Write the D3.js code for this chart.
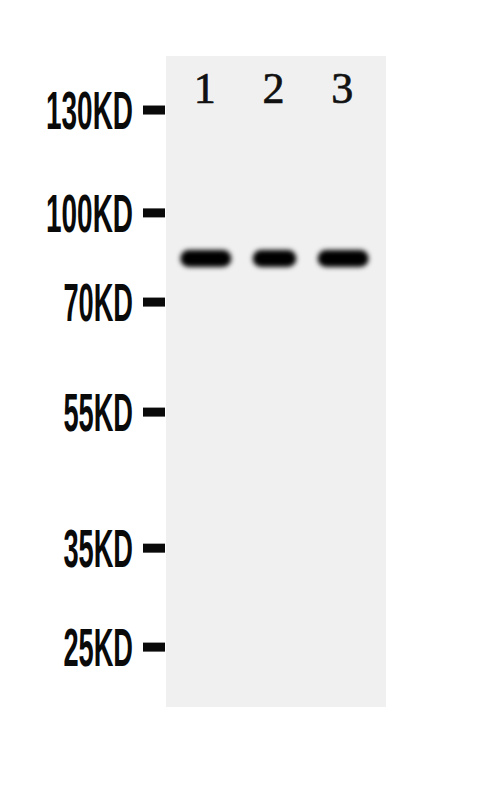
<!DOCTYPE html>
<html>
<head>
<meta charset="utf-8">
<script src="https://cdn.jsdelivr.net/npm/d3@7"></script>
<style>
  html, body { margin: 0; padding: 0; background: #fff; }
</style>
</head>
<body>
<svg id="blot"></svg>
<script>
// lanes and marker ladder
var lanes = ["1", "2", "3"];
var markerLabels = ["130KD", "100KD", "70KD", "55KD", "35KD", "25KD"];
// relative migration (0 = top of membrane, 1 = bottom)
var markerRf = [0.083, 0.241, 0.378, 0.547, 0.756, 0.908];
// detected band per lane
var bandRf = [0.311, 0.311, 0.311];
var bandSignal = [1.0, 0.87, 1.0];

const width = 500;
const height = 793;
const memLeft = 166;
const memRight = 386;
const memTop = 56;
const memBottom = 707;

const y = d3.scaleLinear([0, 1], [memTop, memBottom]);
const x = d3.scalePoint(lanes, [memLeft, memRight - 3]).padding(0.58);
const bandW = d3.scaleLinear([0, 1], [0, 57]);

var svg = d3.select('#blot')
    .attr("width", width)
    .attr("height", height)
    .attr("viewBox", [0, 0, width, height]);

svg.append("rect")
    .attr("width", width)
    .attr("height", height)
    .attr("fill", "#ffffff");

var defs = svg.append("defs");
defs.append("filter")
    .attr("id", "blur")
    .attr("x", "-30%").attr("y", "-100%")
    .attr("width", "160%").attr("height", "300%")
    .append("feGaussianBlur")
    .attr("stdDeviation", 2.8);

// membrane
svg.append("rect")
    .attr("x", memLeft)
    .attr("y", memTop)
    .attr("width", memRight - memLeft)
    .attr("height", memBottom - memTop)
    .attr("fill", "#f0f0f0");

// bands
svg.append("g")
    .selectAll("rect")
    .data(lanes)
    .join("rect")
    .attr("x", function(d, i) { return x(d) - bandW(bandSignal[i]) / 2 + 3; })
    .attr("y", function(d, i) { return y(bandRf[i]) - 8.5; })
    .attr("width", function(d, i) { return bandW(bandSignal[i]) - 6; })
    .attr("height", 17)
    .attr("rx", 8.5)
    .attr("fill", "#050505")
    .attr("filter", "url(#blur)");

// lane numbers
svg.append("g")
    .selectAll("text")
    .data(lanes)
    .join("text")
    .attr("x", function(d) { return x(d) - 1; })
    .attr("y", 103)
    .attr("text-anchor", "middle")
    .attr("font-family", "'Liberation Serif', 'DejaVu Serif', serif")
    .attr("font-size", 44)
    .attr("fill", "#111")
    .attr("stroke", "#111")
    .attr("stroke-width", 0.7)
    .text(function(d) { return d; });

// marker ladder: ticks + labels
var markers = svg.append("g");
markers.selectAll("rect")
    .data(markerRf)
    .join("rect")
    .attr("x", 143)
    .attr("y", function(d) { return y(d) - 4.5; })
    .attr("width", 22)
    .attr("height", 9)
    .attr("fill", "#0a0a0a");

markers.selectAll("text")
    .data(markerLabels)
    .join("text")
    .attr("text-anchor", "end")
    .attr("font-family", "'Liberation Sans Narrow', 'Liberation Sans', Arial, sans-serif")
    .attr("font-weight", "bold")
    .attr("font-size", 54)
    .attr("fill", "#0a0a0a")
    .text(function(d) { return d; })
    .attr("transform", function(d, i) {
        // squeeze the glyphs to the narrow look of the original
        var natural = this.getComputedTextLength();
        var sx = (d.length * 17.4) / natural;
        return "translate(133," + (y(markerRf[i]) + 19) + ") scale(" + sx + ",1)";
    });
</script>
</body>
</html>
